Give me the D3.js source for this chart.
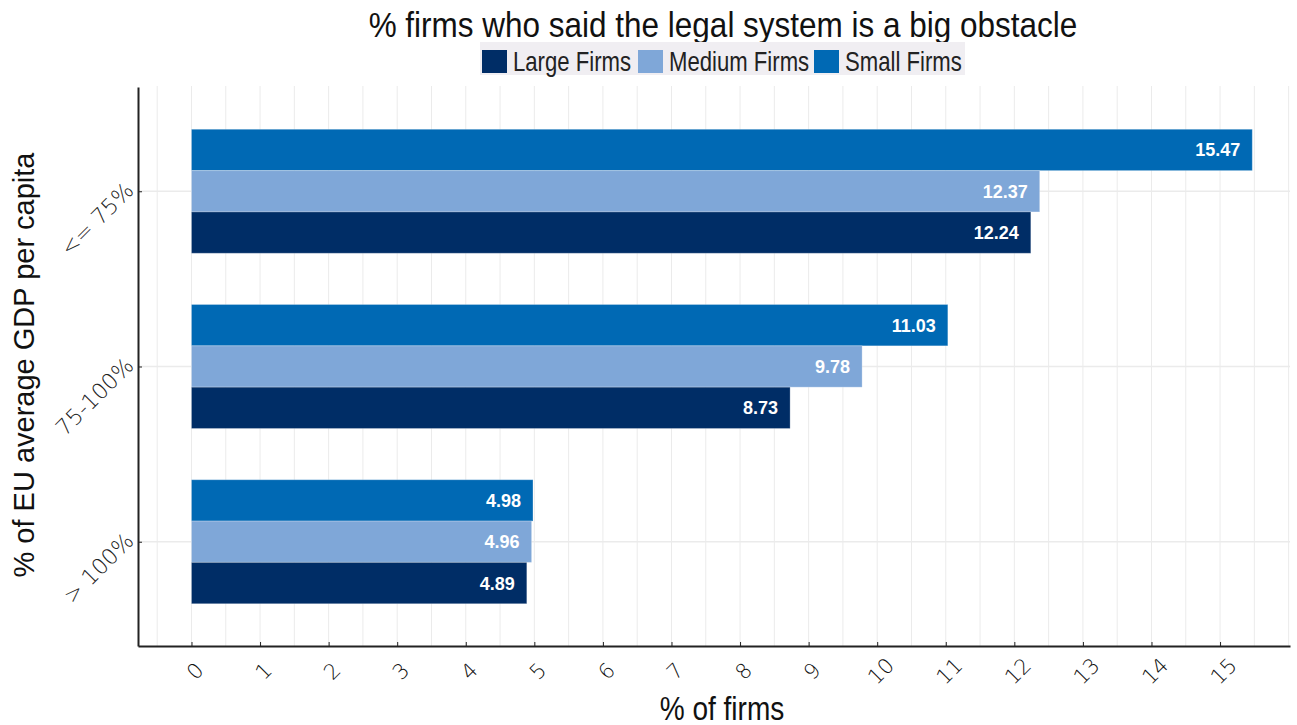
<!DOCTYPE html>
<html><head><meta charset="utf-8">
<script src="https://cdn.jsdelivr.net/npm/d3@7"></script>
<style>
html,body{margin:0;padding:0;background:#fff;}
text{font-family:"Liberation Sans",Arial,sans-serif;}
</style></head>
<body><svg id="chart" width="1297" height="725"></svg>
<script>
const categories = ["<= 75%", "75-100%", "> 100%"];
const seriesNames = ["Small Firms", "Medium Firms", "Large Firms"];
const smallFirms = [15.47, 11.03, 4.98];
const mediumFirms = [12.37, 9.78, 4.96];
const largeFirms = [12.24, 8.73, 4.89];
const xTicks = [0,1,2,3,4,5,6,7,8,9,10,11,12,13,14,15];
const legendOrder = ["Large Firms", "Medium Firms", "Small Firms"];
const colors = {"Large Firms":"#002d66","Medium Firms":"#7fa7d8","Small Firms":"#0069b4"};
const seriesValues = {"Small Firms":smallFirms,"Medium Firms":mediumFirms,"Large Firms":largeFirms};

(function(){
const svg = d3.select("#chart");
const mL = 138, mR = 1290, mT = 86, mB = 646;

const x = d3.scaleLinear().domain([-0.78, 16.02]).range([mL, mR]);
const y = d3.scalePoint().domain(categories).range([87, mB]).padding(0.595);
const inner = d3.scaleBand().domain(seriesNames).range([-62, 62]);

const gridVals = d3.range(-0.5, 16.01, 0.5);
svg.append("g").selectAll("line").data(gridVals).join("line")
  .attr("x1", d => x(d)).attr("x2", d => x(d))
  .attr("y1", mT).attr("y2", mB)
  .attr("stroke", "#ebebeb").attr("stroke-width", 1);
svg.append("g").selectAll("line").data(categories).join("line")
  .attr("x1", mL).attr("x2", mR)
  .attr("y1", d => y(d)).attr("y2", d => y(d))
  .attr("stroke", "#ebebeb").attr("stroke-width", 1.5);

const rows = [];
categories.forEach((c, i) => seriesNames.forEach(s => rows.push({c, s, v: seriesValues[s][i]})));
const bars = svg.append("g");
bars.selectAll("rect").data(rows).join("rect")
  .attr("x", x(0))
  .attr("y", d => y(d.c) + inner(d.s))
  .attr("width", d => x(d.v) - x(0))
  .attr("height", inner.bandwidth())
  .attr("fill", d => colors[d.s])
  .attr("stroke", "rgba(255,255,255,0.25)").attr("stroke-width", 1);
bars.selectAll("text").data(rows).join("text")
  .attr("x", d => x(d.v) - 12)
  .attr("y", d => y(d.c) + inner(d.s) + inner.bandwidth()/2)
  .attr("dy", "0.36em")
  .attr("text-anchor", "end")
  .attr("fill", "#fff")
  .style("font-weight", "bold").style("font-size", "18px")
  .text(d => d.v.toFixed(2));

const xAxis = d3.axisBottom(x).tickValues(xTicks).tickSizeInner(-4).tickSizeOuter(0).tickFormat(d3.format("d"));
const gx = svg.append("g").attr("transform", `translate(0,${mB})`).call(xAxis);
gx.select(".domain").attr("stroke", "#222").attr("stroke-width", 2);
gx.selectAll(".tick line").attr("stroke", "#222");
gx.selectAll(".tick text")
  .attr("y", 0).attr("dy", "0.35em")
  .attr("transform", "translate(3,25) rotate(-45)")
  .attr("text-anchor", "middle")
  .attr("fill", "#111")
  .style("font-family", "'DejaVu Sans', sans-serif").style("font-weight", "200")
  .style("font-size", "21px");

const yAxis = d3.axisLeft(y).tickSizeInner(-4).tickSizeOuter(0);
const gy = svg.append("g").attr("transform", `translate(${mL},0)`).call(yAxis);
gy.select(".domain").attr("stroke", "#222").attr("stroke-width", 2);
gy.selectAll(".tick line").attr("stroke", "#222");
gy.selectAll(".tick text")
  .attr("x", 0).attr("dy", 0)
  .attr("transform", "translate(-3,0) rotate(-45)")
  .attr("text-anchor", "end")
  .attr("fill", "#222")
  .style("font-family", "'DejaVu Sans', sans-serif").style("font-weight", "200")
  .style("font-size", "22px");

function narrow(g, tx, ty, sx, size, txt, anchor, rot) {
  return g.append("text")
    .attr("transform", `translate(${tx},${ty})${rot ? " rotate(" + rot + ")" : ""} scale(${sx},1)`)
    .attr("text-anchor", anchor || "middle")
    .attr("fill", "#111").style("font-size", size + "px").text(txt);
}

narrow(svg, 723, 37, 0.9, 35, "% firms who said the legal system is a big obstacle");
narrow(svg, 722, 720, 0.85, 33, "% of firms");
narrow(svg, 34, 365, 1.0, 29, "% of EU average GDP per capita", "middle", -90);

const lg = svg.append("g");
lg.append("rect").attr("x", 480).attr("y", 42).attr("width", 485).attr("height", 33).attr("fill", "#f0eef2");
const legendX = [482, 638, 814];
const items = lg.selectAll("g").data(legendOrder).join("g")
  .attr("transform", (d, i) => `translate(${legendX[i]},50)`);
items.append("rect").attr("width", 25).attr("height", 23).attr("fill", d => colors[d]);
items.each(function(d) {
  narrow(d3.select(this), 31, 21, 0.82, 27, d, "start").attr("fill", "#222");
});
})();
</script></body></html>
